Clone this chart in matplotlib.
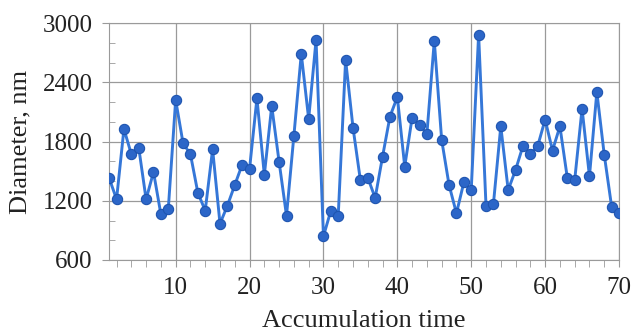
import numpy as np
import matplotlib.pyplot as plt
from matplotlib.ticker import MultipleLocator

# Accumulation time steps and measured diameters (nm)
time = np.arange(1, 71)
diameter = [1430, 1215, 1928, 1672, 1739, 1215, 1492, 1063, 1114, 2222,
            1783, 1672, 1282, 1100, 1722, 968, 1150, 1360, 1566, 1525,
            2239, 1462, 2161, 1594, 1049, 1860, 2689, 2030, 2831, 840,
            1100, 1049, 2628, 1942, 1408, 1434, 1229, 1648, 2053, 2253,
            1547, 2043, 1969, 1877, 2821, 1817, 1360, 1073, 1387, 1310,
            2885, 1150, 1165, 1955, 1310, 1512, 1756, 1678, 1756, 2023,
            1709, 1955, 1434, 1408, 2134, 1448, 2303, 1668, 1140, 1080]

plt.rcParams['font.family'] = ['Liberation Serif']

fig = plt.figure(figsize=(6.31, 3.32), dpi=100)
ax = fig.add_axes([0.173, 0.217, 0.808, 0.713])

ax.plot(time, diameter, color='#3577d8', linewidth=2.1, marker='o',
        markersize=7.4, markerfacecolor='#2c66c8', markeredgecolor='#1f55b0',
        markeredgewidth=0.8, zorder=3)

ax.set_xlim(1, 70)
ax.set_ylim(600, 3000)
ax.xaxis.set_major_locator(MultipleLocator(10))
ax.xaxis.set_minor_locator(MultipleLocator(2))
ax.yaxis.set_major_locator(MultipleLocator(600))
ax.yaxis.set_minor_locator(MultipleLocator(200))

ax.grid(True, which='major', color='#9a9a9a', linewidth=0.9)
for s in ax.spines.values():
    s.set_color('#9a9a9a')

ax.tick_params(axis='both', which='major', labelsize=18, colors='#9a9a9a',
               labelcolor='#222222', length=5)
ax.tick_params(axis='x', which='major', pad=7)
ax.tick_params(axis='y', which='major', pad=7)
ax.tick_params(axis='x', which='minor', length=5, colors='#9a9a9a')
ax.tick_params(axis='y', which='minor', length=4, colors='#9a9a9a', direction='in')

ax.set_xlabel('Accumulation time', fontsize=19, color='#222222', labelpad=8)
ax.set_ylabel('Diameter, nm', fontsize=19, color='#222222', labelpad=8)

fig.savefig('out.png', dpi=100)
